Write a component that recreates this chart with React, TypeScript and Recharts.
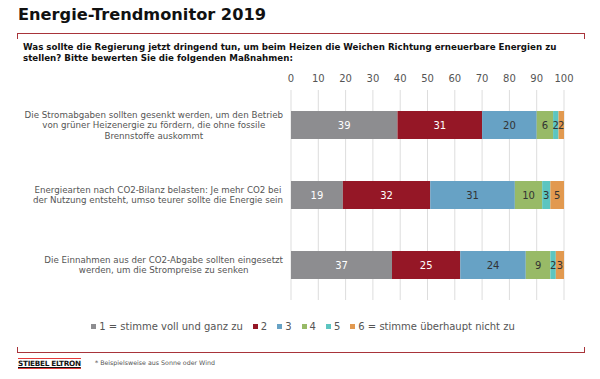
import React from 'react';
import { BarChart, Bar, XAxis, YAxis, CartesianGrid, LabelList, Legend } from 'recharts';

const categories = [
  'Die Stromabgaben sollten gesenkt werden, um den Betrieb\nvon grüner Heizenergie zu fördern, die ohne fossile\nBrennstoffe auskommt',
  'Energiearten nach CO2-Bilanz belasten: Je mehr CO2 bei\nder Nutzung entsteht, umso teurer sollte die Energie sein',
  'Die Einnahmen aus der CO2-Abgabe sollten eingesetzt\nwerden, um die Strompreise zu senken',
];
const s1 = [39, 19, 37];
const s2 = [31, 32, 25];
const s3 = [20, 31, 24];
const s4 = [6, 10, 9];
const s5 = [2, 3, 2];
const s6 = [2, 5, 3];
const seriesNames = ['1 = stimme voll und ganz zu', '2', '3', '4', '5', '6 = stimme überhaupt nicht zu'];
const ticks = [0, 10, 20, 30, 40, 50, 60, 70, 80, 90, 100];

const colors = ['#8d8d90', '#951726', '#67a2c5', '#98ba67', '#5cc5c0', '#e2994f'];
const labelColors = ['#ffffff', '#ffffff', '#333333', '#333333', '#333333', '#333333'];
const FONT = '"DejaVu Sans", Verdana, sans-serif';

const seriesValues = [s1, s2, s3, s4, s5, s6];
const data = categories.map((c, i) => {
  const row: any = { name: c };
  seriesValues.forEach((s, k) => { row['s' + k] = s[i]; });
  return row;
});

let ctx: CanvasRenderingContext2D | null = null;
function measure(text: string, font: string): number {
  if (!ctx) {
    const c = document.createElement('canvas');
    ctx = c.getContext('2d');
  }
  if (!ctx) return text.length * 5;
  ctx.font = font;
  return ctx.measureText(text).width;
}

const CatTick = (props: any) => {
  const { y, payload } = props;
  const lines: string[] = String(payload.value).split('\n');
  const fs = 8.7;
  const widths = lines.map((l) => measure(l, `${fs}px "DejaVu Sans"`));
  const maxW = Math.max(...widths);
  const right = 283;
  const cx = right - maxW / 2;
  const lh = 10.5;
  const y0 = y - ((lines.length - 1) * lh) / 2;
  return (
    <g>
      {lines.map((l, i) => (
        <text key={i} x={cx} y={y0 + i * lh} dy="0.35em" textAnchor="middle" fontSize={fs} fill="#555" fontFamily={FONT}>
          {l}
        </text>
      ))}
    </g>
  );
};

const makeLabel = (k: number) => (props: any) => {
  const { x, y, width, height, value } = props;
  return (
    <text x={x + width / 2} y={y + height / 2} dy="0.35em" textAnchor="middle" fontSize={10} fill={labelColors[k]} fontFamily={FONT}>
      {value}
    </text>
  );
};

const LegendContent = () => (
  <div style={{ display: 'flex', justifyContent: 'center', fontFamily: FONT, fontSize: 10, color: '#555', paddingLeft: 6 }}>
    {seriesNames.map((n, i) => (
      <div key={i} style={{ display: 'flex', alignItems: 'center', marginRight: i < seriesNames.length - 1 ? 10 : 0 }}>
        <span style={{ display: 'inline-block', width: 5, height: 5, background: colors[i], marginRight: 3 }} />
        <span>{n}</span>
      </div>
    ))}
  </div>
);

export default function App() {
  return (
    <div style={{ position: 'absolute', left: 0, top: 0, width: 600, height: 379, background: '#fff', fontFamily: FONT }}>
      <div style={{ position: 'absolute', left: 18, top: 5, fontSize: 16.2, fontWeight: 'bold', color: '#111', whiteSpace: 'nowrap' }}>
        Energie-Trendmonitor 2019
      </div>
      {/* top frame */}
      <div style={{ position: 'absolute', left: 17, top: 33, width: 566, height: 5, borderTop: '1px solid #a8343a', borderLeft: '1px solid #a8343a', borderRight: '1px solid #a8343a' }} />
      <div style={{ position: 'absolute', left: 23, top: 42, fontSize: 8.7, fontWeight: 'bold', color: '#111', lineHeight: '11px', whiteSpace: 'nowrap' }}>
        Was sollte die Regierung jetzt dringend tun, um beim Heizen die Weichen Richtung erneuerbare Energien zu
        <br />
        stellen? Bitte bewerten Sie die folgenden Maßnahmen:
      </div>
      <div style={{ position: 'absolute', left: 0, top: 0 }}>
        <BarChart
          width={600}
          height={379}
          data={data}
          layout="vertical"
          margin={{ top: 70, right: 36, bottom: 68, left: 11 }}
          barCategoryGap="30%"
        >
          <CartesianGrid horizontal={false} stroke="#dddddd" />
          <XAxis
            type="number"
            orientation="top"
            domain={[0, 100]}
            ticks={ticks}
            height={20}
            axisLine={false}
            tickLine={false}
            tick={{ fontSize: 10, fill: '#555', fontFamily: FONT }}
            interval={0}
          />
          <YAxis type="category" dataKey="name" width={280} axisLine={false} tickLine={false} tick={<CatTick />} interval={0} />
          <Legend
            verticalAlign="bottom"
            content={<LegendContent />}
            wrapperStyle={{ top: 321, left: 0, width: 600 }}
          />
          {seriesNames.map((n, k) => (
            <Bar key={k} dataKey={'s' + k} name={n} stackId="a" fill={colors[k]} isAnimationActive={false}>
              <LabelList dataKey={'s' + k} content={makeLabel(k)} />
            </Bar>
          ))}
        </BarChart>
      </div>
      {/* bottom frame */}
      <div style={{ position: 'absolute', left: 17, top: 347, width: 566, height: 5, borderBottom: '1px solid #a8343a', borderLeft: '1px solid #a8343a', borderRight: '1px solid #a8343a' }} />
      <div style={{ position: 'absolute', left: 18, top: 358, fontSize: 7.3, fontWeight: 'bold', color: '#111', borderTop: '1px solid #e23a3a', borderBottom: '1px solid #e23a3a', lineHeight: '9px', textDecoration: 'underline', whiteSpace: 'nowrap', letterSpacing: -0.3 }}>
        STIEBEL ELTRON
      </div>
      <div style={{ position: 'absolute', left: 95, top: 359, fontSize: 6.3, color: '#555', whiteSpace: 'nowrap' }}>
        * Beispielsweise aus Sonne oder Wind
      </div>
    </div>
  );
}
